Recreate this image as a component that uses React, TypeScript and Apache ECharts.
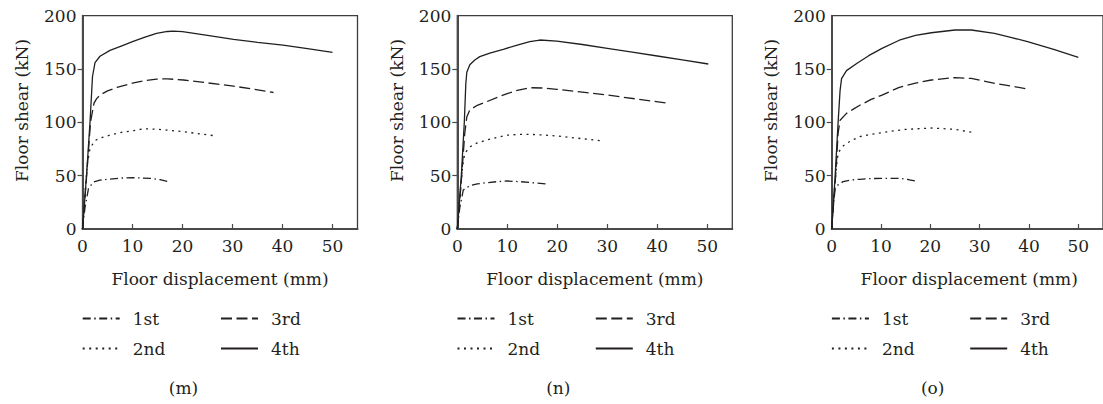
import React, { useEffect, useRef } from "react";
import * as echarts from "echarts";

// ---------- data (x: floor displacement mm, y: floor shear kN) ----------
const xTicks = [0, 10, 20, 30, 40, 50];
const yTicks = [0, 50, 100, 150, 200];
const seriesNames = ["1st", "2nd", "3rd", "4th"];
const panelLabels = ["(m)", "(n)", "(o)"];

const m1 = [[0, 0], [0.5, 20], [1.2, 38], [2.2, 44], [3.5, 45.8], [5.5, 46.8], [8, 47.8], [10.2, 48.1], [13.5, 47.5], [15.5, 46.2], [17.2, 44.4]];
const m2 = [[0, 0], [0.6, 40], [1.0, 62], [1.5, 75.6], [2.5, 83], [4, 86], [5.5, 88], [8, 90.8], [10.2, 92.2], [12.2, 94], [14.5, 93.6], [16.8, 92.8], [20.2, 91.2], [23.5, 89.2], [26.8, 87.2]];
const m3 = [[0, 0], [0.8, 48], [1.6, 100], [2.3, 118], [2.8, 122], [3.5, 125.6], [5, 129.5], [6.9, 132.8], [10.2, 137], [12.5, 139.2], [14.8, 140.6], [17, 140.8], [20.2, 139.7], [25, 137], [30.2, 134], [34, 131.2], [38.2, 128]];
const m4 = [[0, 0], [0.8, 50], [1.5, 100], [2.0, 143], [2.5, 156], [3.5, 162], [5.5, 167.5], [8, 172], [10, 175.6], [12.5, 180], [14.8, 183.4], [17, 185.2], [18.2, 185.6], [20, 185], [25, 181.5], [30.2, 177.8], [35, 175], [40.1, 172.5], [45, 169.2], [50, 165.6]];

const n1 = [[0, 0], [0.5, 20], [1.2, 36.6], [2.5, 40.6], [4, 42.3], [5.9, 43.4], [8, 44.4], [10, 45], [12.5, 44.4], [15, 43.4], [17.7, 42.2]];
const n2 = [[0, 0], [0.7, 40], [1.1, 60], [1.5, 71], [2.5, 77], [4, 80.8], [5.9, 83.4], [8, 86], [10, 88], [12, 88.6], [14.5, 88.75], [17, 88.2], [19.9, 87.2], [24, 85.2], [28.5, 82.8]];
const n3 = [[0, 0], [0.8, 45], [1.5, 90], [1.9, 105], [2.5, 111.6], [4, 116], [5.9, 119.4], [8, 123.5], [10, 127], [12, 130], [14.5, 132.5], [17, 132.2], [19.9, 131], [25, 128.4], [30, 125.6], [36, 121.8], [42.5, 117.8]];
const n4 = [[0, 0], [0.8, 50], [1.4, 100], [1.7, 136], [1.9, 147], [2.5, 154], [3.5, 158.5], [4.5, 161.6], [6.5, 165], [9.2, 168.5], [12, 172.5], [14.5, 175.6], [16.5, 177.2], [19.9, 176.2], [25, 173], [30, 169.4], [35, 165.8], [40, 162.2], [45, 158.6], [50.2, 154.7]];

const o1 = [[0, 0], [0.3, 20], [0.7, 38], [1.3, 41.5], [2.3, 44.4], [4, 46], [5.7, 46.6], [8, 47.3], [10.2, 47.5], [13.7, 47.5], [15.5, 46.4], [17.5, 44.4]];
const o2 = [[0, 0], [0.6, 40], [1.0, 60], [1.3, 71], [2, 76.5], [3, 80.3], [4.3, 83.6], [5.7, 86.6], [8, 88.8], [10.2, 90.3], [12.5, 92], [15, 93.4], [20.2, 94.7], [25, 93.4], [28.9, 90.3]];
const o3 = [[0, 0], [0.8, 50], [1.3, 90], [1.7, 102], [3, 108.4], [4.3, 112.2], [5.7, 116], [8, 121.5], [10.2, 125.6], [13.7, 132.8], [17, 136.8], [20.2, 139.7], [25, 142], [28.3, 141.2], [33.7, 136], [37, 133.5], [40, 131]];
const o4 = [[0, 0], [0.7, 50], [1.3, 100], [1.7, 130], [2, 141], [3, 148.5], [5, 155], [7.5, 162.5], [10.2, 169.4], [13.7, 177], [17, 181.5], [20.2, 184], [25, 186.6], [28.3, 186.6], [33, 183.4], [36.5, 179.5], [39.7, 175.6], [45, 168.5], [50, 161]];

const panelData = [
  [m1, m2, m3, m4],
  [n1, n2, n3, n4],
  [o1, o2, o3, o4],
];

// ---------- styling ----------
const FONT = "DejaVu Serif";
const INK = "#231f20";
const FS = 17;
const dashes: (number[] | "solid")[] = [[8, 3.5, 1.5, 3.5], [2, 4.5], [11, 4.5], "solid"];
const gridLefts = [82.5, 457.3, 831.7];
const GRID_TOP = 15.7;
const GRID_W = 275;
const GRID_H = 213.3;

export default function App() {
  const ref = useRef<HTMLDivElement>(null);

  useEffect(() => {
    if (!ref.current) return;
    const chart = echarts.init(ref.current, null, { renderer: "svg" });

    const grid = gridLefts.map((left) => ({
      left,
      top: GRID_TOP,
      width: GRID_W,
      height: GRID_H,
      show: true,
      borderColor: "#3d3d3d",
      borderWidth: 1.3,
      backgroundColor: "transparent",
    }));

    const xAxis = gridLefts.map((_, i) => ({
      type: "value",
      gridIndex: i,
      min: 0,
      max: 55,
      interval: 10,
      splitLine: { show: false },
      axisLine: { show: true, lineStyle: { color: "#4a4a4a", width: 2 } },
      axisTick: {
        show: true,
        inside: true,
        length: 5,
        customValues: xTicks.slice(1),
        lineStyle: { color: "#4a4a4a", width: 1.2 },
      },
      axisLabel: {
        customValues: xTicks,
        margin: 8,
        color: INK,
        fontFamily: FONT,
        fontSize: FS,
      },
    }));

    const yAxis = gridLefts.map((_, i) => ({
      type: "value",
      gridIndex: i,
      min: 0,
      max: 200,
      interval: 50,
      splitLine: { show: false },
      axisLine: { show: true, lineStyle: { color: "#4a4a4a", width: 2 } },
      axisTick: {
        show: true,
        inside: false,
        length: 5,
        customValues: [50, 100, 150],
        lineStyle: { color: "#4a4a4a", width: 1.2 },
      },
      axisLabel: {
        customValues: yTicks,
        margin: 6,
        color: INK,
        fontFamily: FONT,
        fontSize: FS,
      },
    }));

    const series: any[] = [];
    panelData.forEach((curves, p) => {
      curves.forEach((data, k) => {
        series.push({
          type: "line",
          name: seriesNames[k],
          xAxisIndex: p,
          yAxisIndex: p,
          data,
          symbol: "none",
          showSymbol: false,
          smooth: false,
          color: INK,
          itemStyle: { color: INK },
          lineStyle: { color: INK, width: 1.3, type: dashes[k] },
          emphasis: { disabled: true },
        });
      });
    });

    const legend: any[] = [];
    gridLefts.forEach((left) => {
      [["1st", "2nd"], ["3rd", "4th"]].forEach((names, c) => {
        legend.push({
          orient: "vertical",
          left: left - 0.8 + c * 138.3,
          top: 310,
          padding: 0,
          itemWidth: 37,
          itemHeight: 14,
          itemGap: 13,
          selectedMode: false,
          data: names,
          itemStyle: { opacity: 0, borderWidth: 0 },
          textStyle: {
            color: INK,
            fontFamily: FONT,
            fontSize: FS,
            lineHeight: 14,
            padding: [0, 0, 0, 8],
          },
        });
      });
    });

    const graphic: any[] = [];
    gridLefts.forEach((left, p) => {
      const dx = left - gridLefts[0];
      graphic.push({
        type: "text",
        x: 22 + dx,
        y: 110.5,
        rotation: Math.PI / 2,
        style: {
          text: "Floor shear (kN)",
          fill: INK,
          font: `${FS}px "${FONT}"`,
          align: "center",
          verticalAlign: "middle",
        },
      });
      graphic.push({
        type: "text",
        x: left + GRID_W / 2,
        y: 279,
        style: {
          text: "Floor displacement (mm)",
          fill: INK,
          font: `${FS}px "${FONT}"`,
          align: "center",
          verticalAlign: "middle",
        },
      });
      graphic.push({
        type: "text",
        x: 183.5 + dx,
        y: 388,
        style: {
          text: panelLabels[p],
          fill: INK,
          font: `${FS}px "${FONT}"`,
          align: "center",
          verticalAlign: "middle",
        },
      });
    });

    chart.setOption({
      animation: false,
      backgroundColor: "#ffffff",
      grid,
      xAxis,
      yAxis,
      series,
      legend,
      graphic,
    });

    return () => chart.dispose();
  }, []);

  return (
    <div
      ref={ref}
      style={{ position: "absolute", left: 0, top: 0, width: 1103, height: 404 }}
    />
  );
}
